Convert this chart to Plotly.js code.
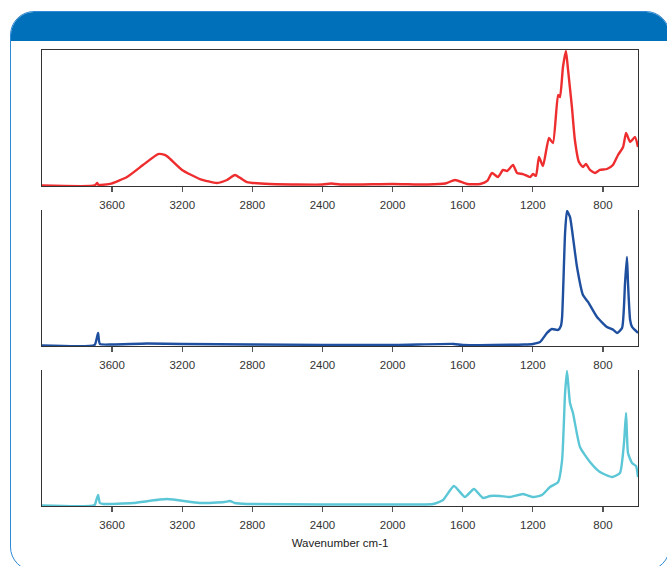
<!DOCTYPE html>
<html>
<head>
<meta charset="utf-8">
<script src="https://cdn.plot.ly/plotly-3.0.1.min.js"></script>
<style>
  html, body { margin: 0; padding: 0; background: #ffffff; }
  #wrap { position: relative; width: 667px; height: 566px; overflow: hidden; background: #fff; }
  #box { position: absolute; left: 10px; top: 11px; width: 658px; height: 558px;
         border: 1.5px solid #2f8ad6; border-radius: 24px; overflow: hidden; background: #fff; }
  #hdr { position: absolute; left: 0; top: 0; width: 100%; height: 29px; background: #0070ba; }
  #chart { position: absolute; left: 0; top: 0; width: 667px; height: 566px; }
</style>
</head>
<body>
<div id="wrap">
  <div id="box"><div id="hdr"></div></div>
  <div id="chart"></div>
</div>
<script>
// Wavenumber tick labels
const tickValues = [3600, 3200, 2800, 2400, 2000, 1600, 1200, 800];
const xTitle = "Wavenumber cm-1";

// Spectrum 1 (red)
const wn1 = [4000, 3700, 3685, 3678, 3665, 3612, 3515, 3424, 3338, 3300, 3281, 3201, 3099, 3002, 2945, 2899, 2860, 2831, 2700,
  2400, 2350, 2300, 2000, 1800, 1700, 1644, 1575, 1500, 1460, 1433, 1399, 1370, 1347, 1313, 1290, 1256, 1216, 1199, 1182,
  1165, 1142, 1108, 1085, 1056, 1045, 1028, 1011, 999, 977, 960, 937, 914, 897, 874, 845, 817, 777, 743, 714, 685, 668, 645, 617, 600];
const abs1 = [0.004, 0.004, 0.022, 0.008, 0.008, 0.015, 0.066, 0.154, 0.235, 0.228, 0.213, 0.118, 0.051, 0.022, 0.044, 0.081, 0.051, 0.029, 0.015,
  0.011, 0.018, 0.011, 0.015, 0.011, 0.018, 0.044, 0.015, 0.015, 0.037, 0.096, 0.066, 0.118, 0.110, 0.154, 0.096, 0.088, 0.066, 0.088, 0.074,
  0.213, 0.147, 0.353, 0.316, 0.669, 0.654, 0.875, 0.993, 0.853, 0.581, 0.338, 0.176, 0.140, 0.162, 0.118, 0.096, 0.118, 0.125, 0.154, 0.228, 0.287, 0.390, 0.324, 0.360, 0.287];

// Spectrum 2 (dark blue)
const wn2 = [4000, 3700, 3690, 3680, 3670, 3600, 3400, 3200, 2800, 2000, 1650, 1600, 1250, 1199, 1159, 1119, 1091, 1056, 1040, 1033,
  1016, 1005, 988, 971, 948, 914, 885, 834, 777, 740, 720, 691, 674, 663, 657, 645, 634, 600];
const abs2 = [0.004, 0.007, 0.044, 0.096, 0.015, 0.011, 0.018, 0.015, 0.011, 0.007, 0.015, 0.007, 0.011, 0.015, 0.029, 0.096, 0.125, 0.118, 0.147, 0.213,
  0.831, 0.993, 0.949, 0.801, 0.581, 0.375, 0.324, 0.213, 0.140, 0.118, 0.096, 0.132, 0.463, 0.654, 0.463, 0.191, 0.140, 0.096];

// Spectrum 3 (cyan)
const wn3 = [4000, 3700, 3690, 3680, 3670, 3650, 3480, 3287, 3100, 2960, 2928, 2900, 2830, 2000, 1770, 1712, 1650, 1587, 1536, 1484,
  1444, 1387, 1330, 1256, 1199, 1148, 1102, 1056, 1033, 1016, 1005, 988, 971, 931, 874, 817, 748, 703, 680, 668, 657, 634, 611, 600];
const abs3 = [0.004, 0.007, 0.044, 0.081, 0.022, 0.015, 0.022, 0.051, 0.022, 0.029, 0.037, 0.022, 0.015, 0.011, 0.015, 0.044, 0.147, 0.066, 0.125, 0.059,
  0.074, 0.074, 0.066, 0.088, 0.066, 0.081, 0.140, 0.176, 0.338, 0.831, 0.993, 0.757, 0.684, 0.434, 0.324, 0.250, 0.213, 0.243, 0.463, 0.684, 0.390, 0.316, 0.294, 0.213];

const W = 667, H = 566;
const xDom = [42 / W, 638 / W];
function yDom(top, bottom) { return [1 - bottom / H, 1 - top / H]; }

function trace(x, y, color, n) {
  return { x: x, y: y, type: 'scatter', mode: 'lines',
    line: { color: color, width: 2.4, shape: 'spline', smoothing: 0.5 },
    xaxis: n === 1 ? 'x' : 'x' + n, yaxis: n === 1 ? 'y' : 'y' + n,
    hoverinfo: 'skip', showlegend: false };
}

function xAxis(n, mirror, withTitle) {
  const ax = {
    domain: xDom, range: [4000, 600], anchor: n === 1 ? 'y' : 'y' + n,
    showline: true, linecolor: '#333333', linewidth: 1.4, mirror: mirror,
    showgrid: false, zeroline: false,
    tickmode: 'array', tickvals: tickValues, ticktext: tickValues.map(String),
    ticks: 'outside', ticklen: 5, tickwidth: 1.3, tickcolor: '#555555',
    ticklabelstandoff: 3,
    tickfont: { family: 'Liberation Sans, Arial, sans-serif', size: 11.5, color: '#333333' }
  };
  if (withTitle) {
    ax.title = { text: xTitle, standoff: 8,
      font: { family: 'Liberation Sans, Arial, sans-serif', size: 11.5, color: '#222222' } };
  }
  return ax;
}
function yAxis(n, top, bottom) {
  return {
    domain: yDom(top, bottom), range: [0, 1], anchor: n === 1 ? 'x' : 'x' + n,
    showline: true, linecolor: '#333333', linewidth: 1.4, mirror: true,
    showgrid: false, zeroline: false, showticklabels: false, ticks: ''
  };
}

const data = [
  trace(wn1, abs1, '#ee2d2f', 1),
  trace(wn2, abs2, '#1f4f9f', 2),
  trace(wn3, abs3, '#5bc6d5', 3)
];

const layout = {
  width: W, height: H,
  margin: { l: 0, r: 0, t: 0, b: 0 },
  paper_bgcolor: 'rgba(0,0,0,0)', plot_bgcolor: 'rgba(0,0,0,0)',
  showlegend: false,
  xaxis: xAxis(1, true, false),
  yaxis: yAxis(1, 50, 186),
  xaxis2: xAxis(2, false, false),
  yaxis2: yAxis(2, 210, 346),
  xaxis3: xAxis(3, false, true),
  yaxis3: yAxis(3, 370, 506)
};

Plotly.newPlot('chart', data, layout, { staticPlot: true, displayModeBar: false });
</script>
</body>
</html>
